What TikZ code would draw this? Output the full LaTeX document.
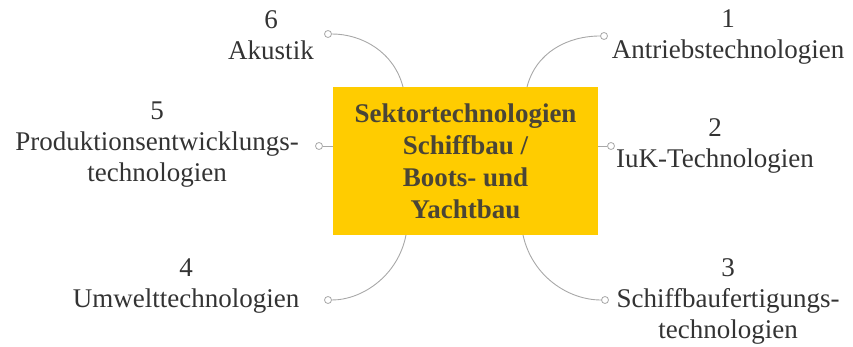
\documentclass[tikz,border=0pt]{standalone}
\usepackage{fontspec}
\setmainfont{Liberation Serif}
\definecolor{hub}{HTML}{FFCC00}
\definecolor{hubtext}{HTML}{4A4536}
\definecolor{leaftext}{HTML}{333333}
\definecolor{wire}{HTML}{A8A8A8}
\begin{document}
\begin{tikzpicture}[x=1pt,y=-1pt,
  hubbox/.style={fill=hub, minimum width=265pt, minimum height=148pt, inner sep=0pt,
    align=center, text=hubtext, font=\fontsize{27}{32}\selectfont\bfseries},
  leaf/.style={align=center, inner sep=0pt, text=leaftext,
    font=\fontsize{27}{31}\selectfont},
  knob/.style={circle, draw=wire, fill=white, line width=0.8pt, minimum size=7pt, inner sep=0pt},
  wireline/.style={draw=wire, line width=0.9pt}]
\useasboundingbox (0,0) rectangle (853,347);

% leaf labels
\node[leaf] (l1) at (728,37) {1\\Antriebstechnologien};
\node[leaf] (l2) at (715,146) {2\\IuK-Technologien};
\node[leaf] (l3) at (728,301) {3\\Schiffbaufertigungs-\\technologien};
\node[leaf] (l4) at (186,286) {4\\Umwelttechnologien};
\node[leaf] (l5) at (157,145) {5\\Produktionsentwicklungs-\\technologien};
\node[leaf] (l6) at (271,35) {6\\Akustik};

% attachment points on the hub edges
\coordinate (b1) at (527,87);
\coordinate (b2) at (598,146);
\coordinate (b3) at (523,235);
\coordinate (b4) at (406,235);
\coordinate (b5) at (333,146);
\coordinate (b6) at (403,87);

% end knobs
\node[knob] (c1) at (604,36) {};
\node[knob] (c2) at (611,146) {};
\node[knob] (c3) at (605,300) {};
\node[knob] (c4) at (328,300) {};
\node[knob] (c5) at (319,146) {};
\node[knob] (c6) at (328,34) {};

% connectors
\draw[wireline] (b1) .. controls (536,52) and (568,36) .. (c1);
\draw[wireline] (b2) -- (c2);
\draw[wireline] (b3) .. controls (532,276) and (568,300) .. (c3);
\draw[wireline] (b4) .. controls (398,276) and (362,300) .. (c4);
\draw[wireline] (b5) -- (c5);
\draw[wireline] (b6) .. controls (394,52) and (362,34) .. (c6);

% central topic
\node[hubbox] (hub) at (465.5,161) {Sektortechnologien\\Schiffbau /\\Boots- und\\Yachtbau};
\end{tikzpicture}
\end{document}
